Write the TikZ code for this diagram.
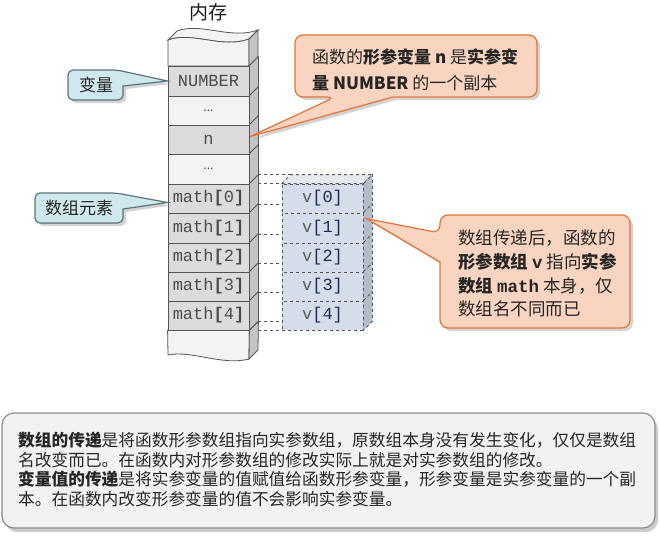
\documentclass[tikz,border=0pt]{standalone}
\usepackage{fontspec}
\setmainfont{Noto Sans CJK SC}
\setmonofont{Liberation Mono}
\newfontfamily\monob{Liberation Mono}
\usetikzlibrary{shadows}
\definecolor{cellg}{HTML}{DCDCDC}
\definecolor{celll}{HTML}{F3F3F3}
\definecolor{sideg}{HTML}{C4C4C4}
\definecolor{edgeg}{HTML}{555555}
\definecolor{vfill}{HTML}{D5DDEA}
\definecolor{vsidec}{HTML}{B3BCC9}
\definecolor{vtop}{HTML}{E3E8F1}
\definecolor{ofill}{HTML}{F9D4C0}
\definecolor{oline}{HTML}{E07438}
\definecolor{cfill}{HTML}{CFE8EE}
\definecolor{cline}{HTML}{5B7479}
\definecolor{bfill}{HTML}{F2F2F2}
\definecolor{bline}{HTML}{8A8A8A}
\definecolor{navy}{HTML}{1F2A55}
\begin{document}
\begin{tikzpicture}[x=1pt,y=-1pt,
  memcell/.style={draw=edgeg, line width=0.8pt, minimum width=81pt, inner sep=0pt,
    font=\ttfamily\fontsize{17}{17}\selectfont, text=black!70},
  grayc/.style={memcell, fill=cellg},
  lightc/.style={memcell, fill=celll},
  sideface/.style={draw=edgeg, line width=0.8pt, fill=sideg},
  vcell/.style={draw=edgeg, dashed, line width=0.8pt, fill=vfill, minimum width=81pt,
    inner sep=0pt, font=\ttfamily\fontsize{17}{17}\selectfont, text=black!65},
  vsideface/.style={draw=edgeg, dashed, line width=0.8pt, fill=vsidec},
  link/.style={draw=edgeg, dashed, line width=0.9pt},
  shad/.style={drop shadow={shadow xshift=3pt, shadow yshift=-3pt, opacity=0.35}},
  ocall/.style={fill=ofill, draw=oline, line width=1.2pt, shad},
  ccall/.style={fill=cfill, draw=cline, line width=1.2pt, shad},
  calltext/.style={inner sep=0pt, align=left, font=\fontsize{17}{26}\selectfont, text=black!85}
]
\useasboundingbox (0,0) rectangle (660,536);

% title
\node[font=\fontsize{19}{19}\selectfont, text=black!90] (title) at (208,12) {内存};

% top of memory column
\fill[celll, draw=edgeg, line width=0.8pt] (177,31) .. controls (201,22) and (231,40) .. (258,30)
  -- (249,39) .. controls (222,49) and (192,31) .. (168,40) -- cycle;
\path[draw=edgeg, line width=0.8pt, fill=celll] (168,66) -- (168,40) .. controls (192,31) and (222,49) .. (249,39) -- (249,66) -- cycle;
\path[sideface] (249,66) -- (249,39) -- (258,30) -- (258,57) -- cycle;

% cells
\node[grayc, minimum height=30pt] (num) at (208.5,81) {NUMBER};
\node[lightc, minimum height=29pt] (d1) at (208.5,110.5) {\normalfont\fontsize{12}{12}\selectfont ...};
\node[grayc, minimum height=29pt] (n) at (208.5,139.5) {n};
\node[lightc, minimum height=30pt] (d2) at (208.5,169) {\normalfont\fontsize{12}{12}\selectfont ...};
\node[grayc, minimum height=29pt] (m0) at (208.5,198.5) {math\textbf{[}0\textbf{]}};
\node[grayc, minimum height=30pt] (m1) at (208.5,228) {math\textbf{[}1\textbf{]}};
\node[grayc, minimum height=29pt] (m2) at (208.5,257.5) {math\textbf{[}2\textbf{]}};
\node[grayc, minimum height=29pt] (m3) at (208.5,286.5) {math\textbf{[}3\textbf{]}};
\node[grayc, minimum height=29pt] (m4) at (208.5,315.5) {math\textbf{[}4\textbf{]}};
\foreach \c in {num,d1,n,d2,m0,m1,m2,m3,m4}{
  \path[sideface] (\c.north east) -- ([shift={(9,-9)}]\c.north east)
    -- ([shift={(9,-9)}]\c.south east) -- (\c.south east) -- cycle;
}
% bottom of memory column
\path[draw=edgeg, line width=0.8pt, fill=celll] (m4.south west) -- (168,355) .. controls (192,350) and (222,366) .. (249,359) -- (m4.south east) -- cycle;
\path[sideface] (m4.south east) -- ([shift={(9,-9)}]m4.south east) -- (258,350) -- (249,359) -- cycle;

% v column
\node[vcell, minimum height=29pt] (v0) at (322.5,198.5) {v{\color{navy}[0]}};
\node[vcell, minimum height=30pt] (v1) at (322.5,228) {v{\color{navy}[1]}};
\node[vcell, minimum height=29pt] (v2) at (322.5,257.5) {v{\color{navy}[2]}};
\node[vcell, minimum height=29pt] (v3) at (322.5,286.5) {v{\color{navy}[3]}};
\node[vcell, minimum height=29pt] (v4) at (322.5,315.5) {v{\color{navy}[4]}};
\path[draw=edgeg, dashed, line width=0.8pt, fill=vtop] (v0.north west) -- ([shift={(9,-9)}]v0.north west)
  -- ([shift={(9,-9)}]v0.north east) -- (v0.north east) -- cycle;
\foreach \c in {v0,v1,v2,v3,v4}{
  \path[vsideface] (\c.north east) -- ([shift={(9,-9)}]\c.north east)
    -- ([shift={(9,-9)}]\c.south east) -- (\c.south east) -- cycle;
}

% dashed links between the columns
\draw[link] ([shift={(9,-9)}]m0.north east) -- ([shift={(9,-9)}]v0.north west);
\draw[link] ([shift={(9,0)}]m0.north east) -- (v0.north west);
\foreach \k in {0,...,4}{
  \draw[link] ([shift={(9,-9)}]m\k.south east) -- ([shift={(0,-9)}]v\k.south west);
}
\draw[link] ([shift={(9,0)}]m4.south east) -- (v4.south west);

% cyan callouts
\path[ccall] (123,86) [rounded corners=5pt] -- (123,100) -- (68,100) -- (68,70) -- (117,70)
  [sharp corners] -- (num.west) -- cycle;
\node[calltext] (lblvar) at (96,85) {变量};
\path[ccall] (123,209) [rounded corners=5pt] -- (123,223) -- (35,223) -- (35,193) -- (116,193)
  [sharp corners] -- ([shift={(0,4)}]m0.west) -- cycle;
\node[calltext] (lblarr) at (79,208) {数组元素};

% orange callout, top
\path[ocall] (393,97) [rounded corners=8pt] -- (537,97) -- (537,35) -- (295,35) -- (295,97) -- (335,97)
  [sharp corners] -- ([shift={(1,-3)}]n.east) -- cycle;
\node[calltext, anchor=west] (txtn) at (312,70)
  {函数的\textbf{形参变量 n} 是\textbf{实参变}\\\textbf{量 NUMBER} 的一个副本};

% orange callout, right
\path[ocall] (440,262) [rounded corners=8pt] -- (440,328) -- (630,328) -- (630,215) -- (440,215) -- (440,233)
  [sharp corners] -- ([shift={(3,6)}]v1.north east) -- cycle;
\node[calltext, anchor=west, font=\fontsize{17.5}{23.7}\selectfont] (txtv) at (458,273.5)
  {数组传递后，函数的\\
   \textbf{形参数组 {\monob\bfseries v}} 指向\textbf{实参}\\
   \textbf{数组 {\monob\bfseries math}} 本身，仅\\
   数组名不同而已};

% bottom note
\node[draw=bline, fill=bfill, line width=1.2pt, rounded corners=12pt, minimum width=653pt,
  minimum height=115pt, drop shadow={shadow xshift=3pt, shadow yshift=-4pt, opacity=0.4}] (notebox) at (328.5,470.5) {};
\node[inner sep=0pt, anchor=west, align=left, font=\fontsize{16.7}{19.7}\selectfont, text=black!85] (notetext) at (18,469.5)
  {\textbf{数组的传递}是将函数形参数组指向实参数组，原数组本身没有发生变化，仅仅是数组\\
   名改变而已。在函数内对形参数组的修改实际上就是对实参数组的修改。\\
   \textbf{变量值的传递}是将实参变量的值赋值给函数形参变量，形参变量是实参变量的一个副\\
   本。在函数内改变形参变量的值不会影响实参变量。};
\end{tikzpicture}
\end{document}
